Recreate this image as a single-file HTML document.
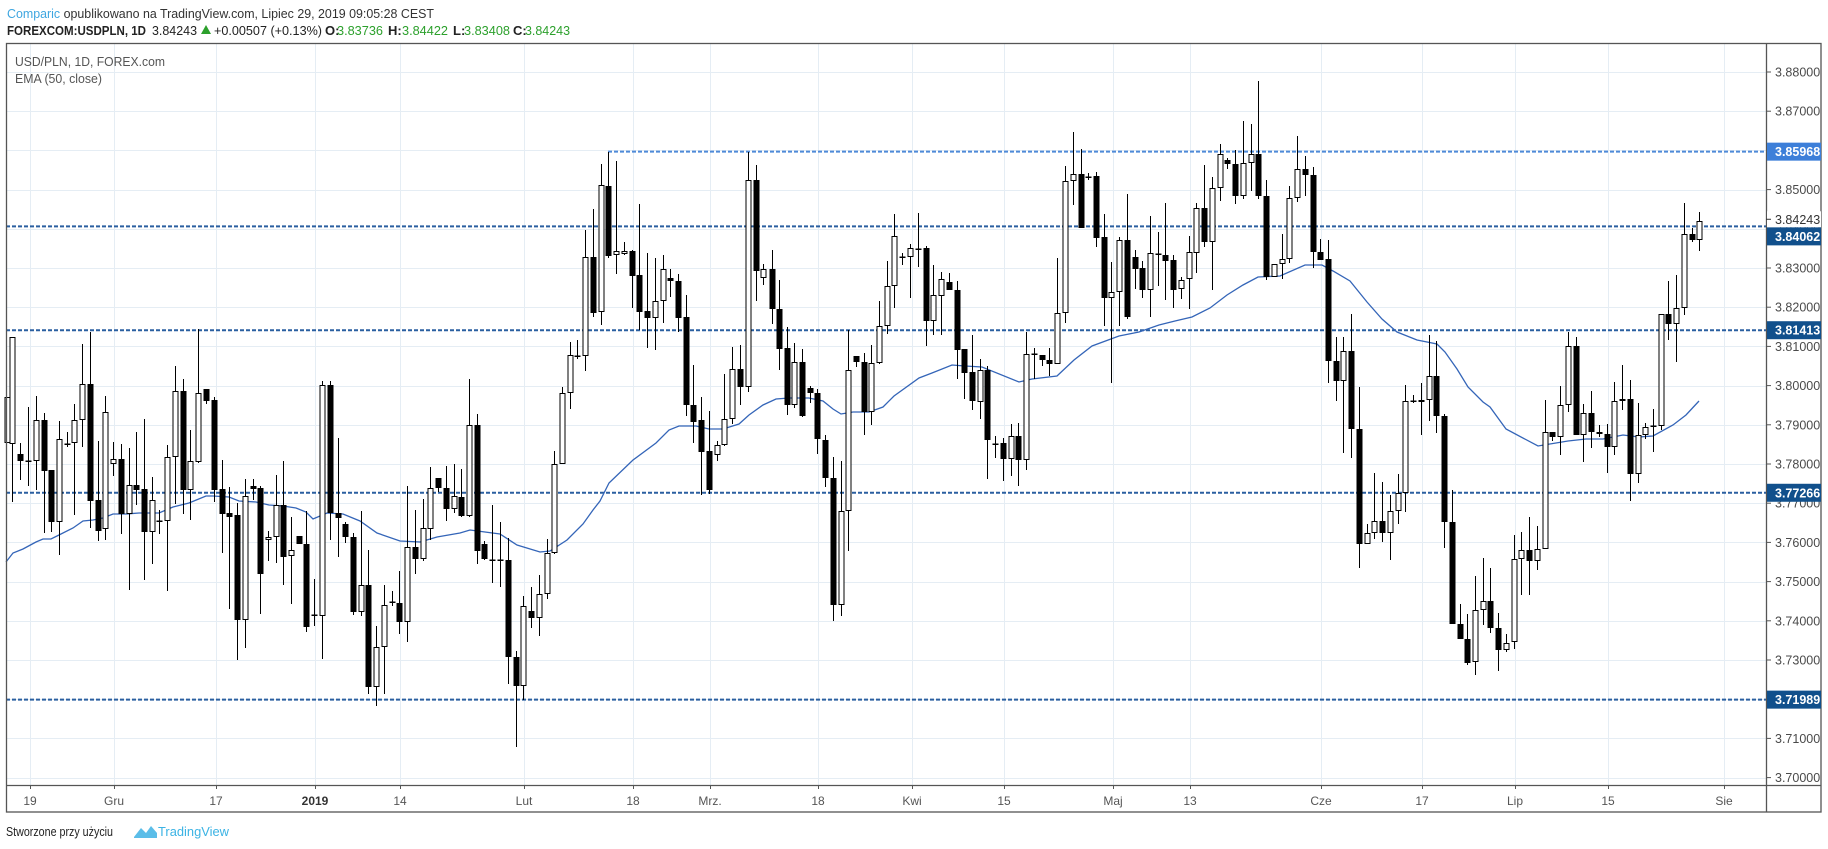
<!DOCTYPE html>
<html><head><meta charset="utf-8">
<style>
html,body{margin:0;padding:0;background:#fff;}
svg{display:block;font-family:"Liberation Sans",sans-serif;}
</style></head>
<body>
<svg id="c" width="1828" height="849" viewBox="0 0 1828 849" xmlns="http://www.w3.org/2000/svg">
<rect width="1828" height="849" fill="#fff"/>
<g id="grid"></g>
<g id="lines"></g>
<g id="candles"></g>
<g id="axis"></g>
<text x="7" y="18" font-size="13" fill="#333" textLength="427" lengthAdjust="spacingAndGlyphs"><tspan fill="#3ea6e0">Comparic</tspan> opublikowano na TradingView.com, Lipiec 29, 2019 09:05:28 CEST</text>
<g font-size="13">
<text x="7" y="35" font-weight="bold" fill="#222" textLength="139" lengthAdjust="spacingAndGlyphs">FOREXCOM:USDPLN, 1D</text>
<text x="152" y="35" fill="#222" textLength="45" lengthAdjust="spacingAndGlyphs">3.84243</text>
<polygon points="201,34 206,25 211,34" fill="#2ca02c"/>
<text x="214" y="35" fill="#222" textLength="108" lengthAdjust="spacingAndGlyphs">+0.00507 (+0.13%)</text>
<text x="325" y="35" fill="#222" font-weight="bold">O:</text>
<text x="337" y="35" fill="#2ca02c" textLength="46" lengthAdjust="spacingAndGlyphs">3.83736</text>
<text x="388" y="35" fill="#222" font-weight="bold">H:</text>
<text x="402" y="35" fill="#2ca02c" textLength="46" lengthAdjust="spacingAndGlyphs">3.84422</text>
<text x="453" y="35" fill="#222" font-weight="bold">L:</text>
<text x="464" y="35" fill="#2ca02c" textLength="46" lengthAdjust="spacingAndGlyphs">3.83408</text>
<text x="513" y="35" fill="#222" font-weight="bold">C:</text>
<text x="525" y="35" fill="#2ca02c" textLength="45" lengthAdjust="spacingAndGlyphs">3.84243</text>
</g>
<text x="15" y="66" font-size="13" fill="#555" textLength="150" lengthAdjust="spacingAndGlyphs">USD/PLN, 1D, FOREX.com</text>
<text x="15" y="83" font-size="13" fill="#555" textLength="87" lengthAdjust="spacingAndGlyphs">EMA (50, close)</text>
<text x="6" y="836" font-size="13" fill="#222" textLength="107" lengthAdjust="spacingAndGlyphs">Stworzone przy użyciu</text>
<path d="M134,837 L141,828 L146,833 L151,826 L157,833 L157,838 L134,838 Z" fill="#5bbde8"/>
<text x="158" y="836" font-size="13" fill="#3bb3e4" textLength="71" lengthAdjust="spacingAndGlyphs">TradingView</text>
</svg>
<script>
(function(){
var NS="http://www.w3.org/2000/svg";
function el(p,n,a,t){var e=document.createElementNS(NS,n);for(var k in a)e.setAttribute(k,a[k]);if(t!=null)e.textContent=t;p.appendChild(e);return e;}
function Y(p){return 72+(3.88-p)*3920;}
var grid=document.getElementById('grid'),lines=document.getElementById('lines'),cg=document.getElementById('candles'),ax=document.getElementById('axis');
var L=6.5,R=1821,T=43,B=812,PA=1766,XA=785;
for(var i=0;i<=18;i++){var p=3.70+i*0.01,y=Math.round(Y(p))+0.5;el(grid,'line',{x1:L,x2:PA,y1:y,y2:y,stroke:'#e5edf4','stroke-width':1});}
var xs=[[30,'19'],[114,'Gru'],[216,'17'],[315,'2019'],[400,'14'],[524,'Lut'],[633,'18'],[710,'Mrz.'],[818,'18'],[912,'Kwi'],[1004,'15'],[1113,'Maj'],[1190,'13'],[1321,'Cze'],[1422,'17'],[1515,'Lip'],[1608,'15'],[1724,'Sie']];
xs.forEach(function(a){var x=a[0]+0.5;el(grid,'line',{x1:x,x2:x,y1:T,y2:XA,stroke:'#e5edf4','stroke-width':1});});
var lv=[[3.85968,608,'#4f8ad8'],[3.84062,6,'#2a5fa0'],[3.81413,6,'#2a5fa0'],[3.77266,6,'#2a5fa0'],[3.71989,6,'#2a5fa0']];
lv.forEach(function(a){var y=Y(a[0]);el(lines,'line',{x1:a[1],x2:PA,y1:y,y2:y,stroke:a[2],'stroke-width':2,'stroke-dasharray':'4 2'});});
var ema=[[6,562],[13,553],[23,549],[36,542],[43,539],[51,539],[59,535],[73,528],[83,521],[93,520],[103,518],[113,514],[126,514],[139,513],[153,513],[159,513],[173,507],[189,503],[206,496],[213,496],[229,497],[239,501],[256,502],[269,505],[283,506],[296,508],[306,512],[313,519],[327,513],[343,514],[360,521],[377,533],[400,541],[420,542],[437,537],[460,533],[470,530],[500,534],[517,545],[540,552],[550,551],[567,540],[583,524],[593,510],[600,501],[609,483],[633,460],[656,443],[669,430],[679,426],[696,426],[709,429],[723,429],[739,424],[749,415],[763,405],[776,399],[789,398],[809,398],[823,401],[833,409],[841,414],[853,412],[869,412],[883,407],[894,396],[919,378],[932,373],[952,365],[965,366],[982,367],[1019,382],[1032,379],[1057,376],[1074,360],[1092,346],[1119,336],[1139,332],[1159,325],[1175,321],[1192,317],[1210,308],[1227,295],[1243,285],[1258,277],[1280,276],[1305,265],[1322,265],[1333,271],[1350,281],[1367,302],[1382,319],[1397,332],[1417,340],[1437,344],[1445,352],[1457,369],[1468,387],[1483,402],[1490,407],[1506,429],[1538,446],[1568,441],[1586,439],[1603,439],[1623,435],[1639,437],[1653,436],[1673,425],[1686,415],[1699,401]];
el(lines,'polyline',{points:ema.map(function(a){return a.join(',');}).join(' '),fill:'none',stroke:'#3465b8','stroke-width':1.3});
var D="7 h 397 443 397 443\n12 h 337 444 337 502\n20 b 454 461 443 480\n28 d 461 461 407 486\n36 h 420 461 396 490\n44 b 420 471 413 533\n51 b 470 522 470 532\n59 h 439 522 421 555\n67 d 444 444 432 447\n74 h 420 443 404 515\n82 h 384 420 344 447\n90 b 384 501 332 528\n98 b 500 531 441 541\n105 h 412 529 396 540\n113 h 459 464 442 476\n121 b 459 514 444 534\n129 h 485 514 448 590\n136 b 485 490 432 505\n144 b 489 532 419 580\n152 h 500 532 477 564\n159 d 521 521 510 534\n167 h 457 521 445 591\n175 h 391 457 366 504\n183 b 391 490 379 514\n190 h 461 490 430 520\n198 h 393 462 329 463\n206 b 389 401 389 404\n214 b 400 490 397 502\n222 b 489 514 460 553\n229 b 513 517 487 609\n237 b 515 620 503 660\n245 h 496 620 479 648\n253 b 486 489 479 500\n260 b 488 574 486 614\n268 h 537 540 531 561\n276 h 505 537 475 563\n283 b 505 557 461 585\n291 h 550 556 517 604\n299 b 536 544 536 544\n306 b 544 627 511 632\n314 d 615 615 579 626\n322 h 385 616 381 659\n330 b 385 513 381 540\n338 b 513 518 438 557\n345 b 524 537 522 543\n353 b 537 612 533 615\n361 h 585 612 511 616\n368 b 585 687 550 694\n376 h 647 687 626 706\n384 h 605 647 585 694\n392 d 602 602 591 606\n399 b 603 622 571 634\n407 h 547 622 486 642\n415 b 547 559 510 574\n423 h 528 559 499 561\n430 h 488 529 467 540\n438 b 478 488 478 492\n446 b 488 509 466 521\n454 h 496 509 464 513\n461 b 497 516 469 517\n469 h 425 516 379 517\n477 b 425 551 414 564\n484 b 544 559 541 560\n492 d 560 560 505 583\n500 d 560 560 522 587\n508 b 560 657 538 684\n516 b 657 686 651 747\n523 h 606 686 596 700\n531 b 611 618 587 628\n539 h 594 618 575 636\n547 h 553 594 539 599\n554 h 464 553 451 554\n562 h 393 464 387 464\n570 h 355 393 342 409\n577 d 356 356 340 359\n585 h 257 356 230 371\n593 b 257 313 209 317\n601 h 185 312 164 325\n608 b 186 256 152 258\n616 h 251 255 161 274\n624 h 251 254 242 255\n632 b 251 276 250 308\n639 b 275 312 204 330\n647 b 311 318 253 348\n655 h 301 318 258 350\n663 h 269 301 255 323\n670 b 278 281 269 297\n678 b 281 318 274 332\n686 b 317 405 295 416\n693 b 405 422 365 443\n701 b 420 452 397 495\n709 b 451 490 411 494\n717 h 445 455 441 461\n724 h 419 445 374 446\n732 h 369 419 347 424\n740 b 369 387 345 405\n748 h 180 387 152 392\n756 b 180 271 165 301\n763 h 269 278 264 285\n772 b 269 309 250 324\n779 b 309 349 280 370\n787 b 348 405 327 415\n794 h 362 405 343 408\n802 b 362 416 349 417\n810 b 388 393 386 403\n817 b 393 439 389 454\n825 b 440 478 435 487\n833 b 478 605 457 621\n841 h 511 605 461 616\n848 h 370 511 330 551\n856 b 356 362 356 367\n864 b 362 412 353 435\n871 h 363 412 345 425\n879 h 326 363 301 364\n887 h 286 326 261 334\n894 h 236 286 214 308\n902 d 257 257 253 265\n910 h 248 257 244 298\n918 d 249 249 213 267\n926 b 248 321 246 346\n933 h 295 321 265 335\n941 h 279 296 272 335\n949 b 282 290 273 290\n957 b 290 350 281 379\n964 b 349 373 349 399\n972 b 372 401 335 410\n980 h 370 402 359 419\n987 b 370 440 366 479\n995 d 444 444 436 458\n1003 b 443 459 438 481\n1011 h 436 459 424 476\n1018 b 436 460 423 486\n1026 h 354 460 332 470\n1034 d 354 354 348 379\n1042 b 355 360 355 366\n1049 b 360 364 348 376\n1057 h 313 364 258 364\n1065 h 181 313 166 323\n1073 h 174 181 132 205\n1081 b 174 228 149 228\n1088 d 177 177 173 180\n1096 b 176 238 172 247\n1104 b 237 298 214 326\n1111 h 292 298 262 383\n1119 h 240 292 237 326\n1127 b 240 317 194 319\n1135 b 257 269 250 289\n1142 b 268 290 261 298\n1150 h 253 290 216 317\n1158 d 254 254 232 286\n1165 b 255 261 203 300\n1173 b 260 290 255 308\n1181 h 280 289 277 299\n1189 h 252 279 236 309\n1196 h 208 253 203 273\n1204 b 208 242 165 247\n1212 h 188 242 177 290\n1220 h 154 188 144 201\n1227 b 160 164 158 169\n1235 b 164 196 150 204\n1243 h 163 196 121 199\n1251 h 154 163 124 191\n1258 b 154 196 81 199\n1266 b 196 277 180 280\n1274 h 264 277 264 277\n1282 h 259 264 234 279\n1289 h 198 259 186 263\n1297 h 169 198 136 202\n1305 b 169 175 156 196\n1313 b 175 252 167 268\n1320 b 252 260 239 260\n1328 b 259 361 240 383\n1336 b 361 381 337 401\n1343 h 351 381 337 453\n1351 b 351 429 314 458\n1359 b 429 544 387 568\n1367 h 533 544 524 544\n1374 h 521 533 473 539\n1382 b 521 533 482 542\n1390 h 511 533 495 560\n1398 h 493 511 474 524\n1405 h 401 493 385 512\n1413 d 401 401 395 403\n1421 h 400 401 383 435\n1429 h 376 400 335 421\n1436 b 376 416 341 433\n1444 b 416 522 414 548\n1452 b 522 624 490 624\n1460 b 624 639 604 639\n1467 b 639 663 614 665\n1475 h 610 662 576 675\n1483 h 601 610 558 625\n1490 b 601 628 568 633\n1498 b 628 650 613 671\n1506 h 643 650 634 652\n1514 h 559 642 535 649\n1521 h 550 559 532 595\n1529 b 550 561 517 595\n1537 h 549 561 526 570\n1545 h 432 549 400 549\n1552 b 432 437 432 441\n1560 h 405 437 386 455\n1568 h 346 405 332 412\n1576 b 346 435 337 435\n1583 h 413 435 404 462\n1591 b 413 432 391 448\n1599 b 432 434 425 437\n1607 b 434 447 424 473\n1614 h 401 447 382 455\n1622 h 399 401 365 410\n1630 b 399 474 380 501\n1638 h 435 474 403 483\n1645 h 427 435 423 439\n1653 d 426 426 409 452\n1661 h 314 426 314 430\n1668 b 314 324 281 340\n1676 h 308 324 275 362\n1684 h 234 308 203 315\n1692 b 234 240 228 242\n1699 h 221 240 212 251";
D.split("\n").forEach(function(l){
 var a=l.trim().split(/\s+/);var x=+a[0]+0.5,t=a[1],bt=+a[2],bb=+a[3],wt=+a[4],wb=+a[5];
 if(wb>wt)el(cg,'line',{x1:x,x2:x,y1:wt,y2:wb,stroke:'#000','stroke-width':1});
 if(t=='d'){el(cg,'rect',{x:x-3,y:bt-0.5,width:6,height:1.5,fill:'#000'});return;}
 var h=Math.max(bb-bt,1.5);
 if(t=='b')el(cg,'rect',{x:x-3,y:bt,width:6,height:h,fill:'#000'});
 else el(cg,'rect',{x:x-2.5,y:bt+0.5,width:5,height:Math.max(h-1,1),fill:'#fff',stroke:'#000','stroke-width':1});
});
el(ax,'rect',{x:L,y:T+0.5,width:R-L,height:B-T-0.5,fill:'none',stroke:'#555','stroke-width':1.3});
el(ax,'line',{x1:L,x2:R,y1:XA+0.5,y2:XA+0.5,stroke:'#555','stroke-width':1.3});
el(ax,'line',{x1:PA+0.5,x2:PA+0.5,y1:T,y2:B,stroke:'#555','stroke-width':1.3});
xs.forEach(function(a){var x=a[0]+0.5;el(ax,'line',{x1:x,x2:x,y1:XA,y2:XA+4,stroke:'#555','stroke-width':1});
 el(ax,'text',{x:a[0],y:805,'font-size':12,fill:a[1]=='2019'?'#333':'#555','text-anchor':'middle','font-weight':a[1]=='2019'?'bold':'normal'},a[1]);});
for(var i=0;i<=18;i++){var p=3.70+i*0.01,y=Y(p);
 el(ax,'line',{x1:PA,x2:PA+5,y1:y,y2:y,stroke:'#555','stroke-width':1});
 el(ax,'text',{x:1775,y:y+4.5,'font-size':12.5,fill:'#4a4a4a'},p.toFixed(5));}
var yc=Y(3.84243);
el(ax,'rect',{x:PA+1,y:yc-8,width:54,height:16,fill:'#fff'});
el(ax,'line',{x1:PA,x2:PA+5,y1:yc,y2:yc,stroke:'#333','stroke-width':1});
el(ax,'text',{x:1775,y:yc+4.5,'font-size':12.5,fill:'#333'},'3.84243');
[[3.85968,'#3d7fd9',0],[3.84062,'#11508c',10],[3.81413,'#11508c',0],[3.77266,'#11508c',0],[3.71989,'#11508c',0]].forEach(function(a){
 var y=Y(a[0])+a[2];el(ax,'rect',{x:PA+1,y:y-9,width:R-PA-1,height:18,fill:a[1]});
 el(ax,'text',{x:1775,y:y+4.5,'font-size':12.5,'font-weight':'bold',fill:'#fff'},a[0].toFixed(5));});
})();
</script>
</body></html>
